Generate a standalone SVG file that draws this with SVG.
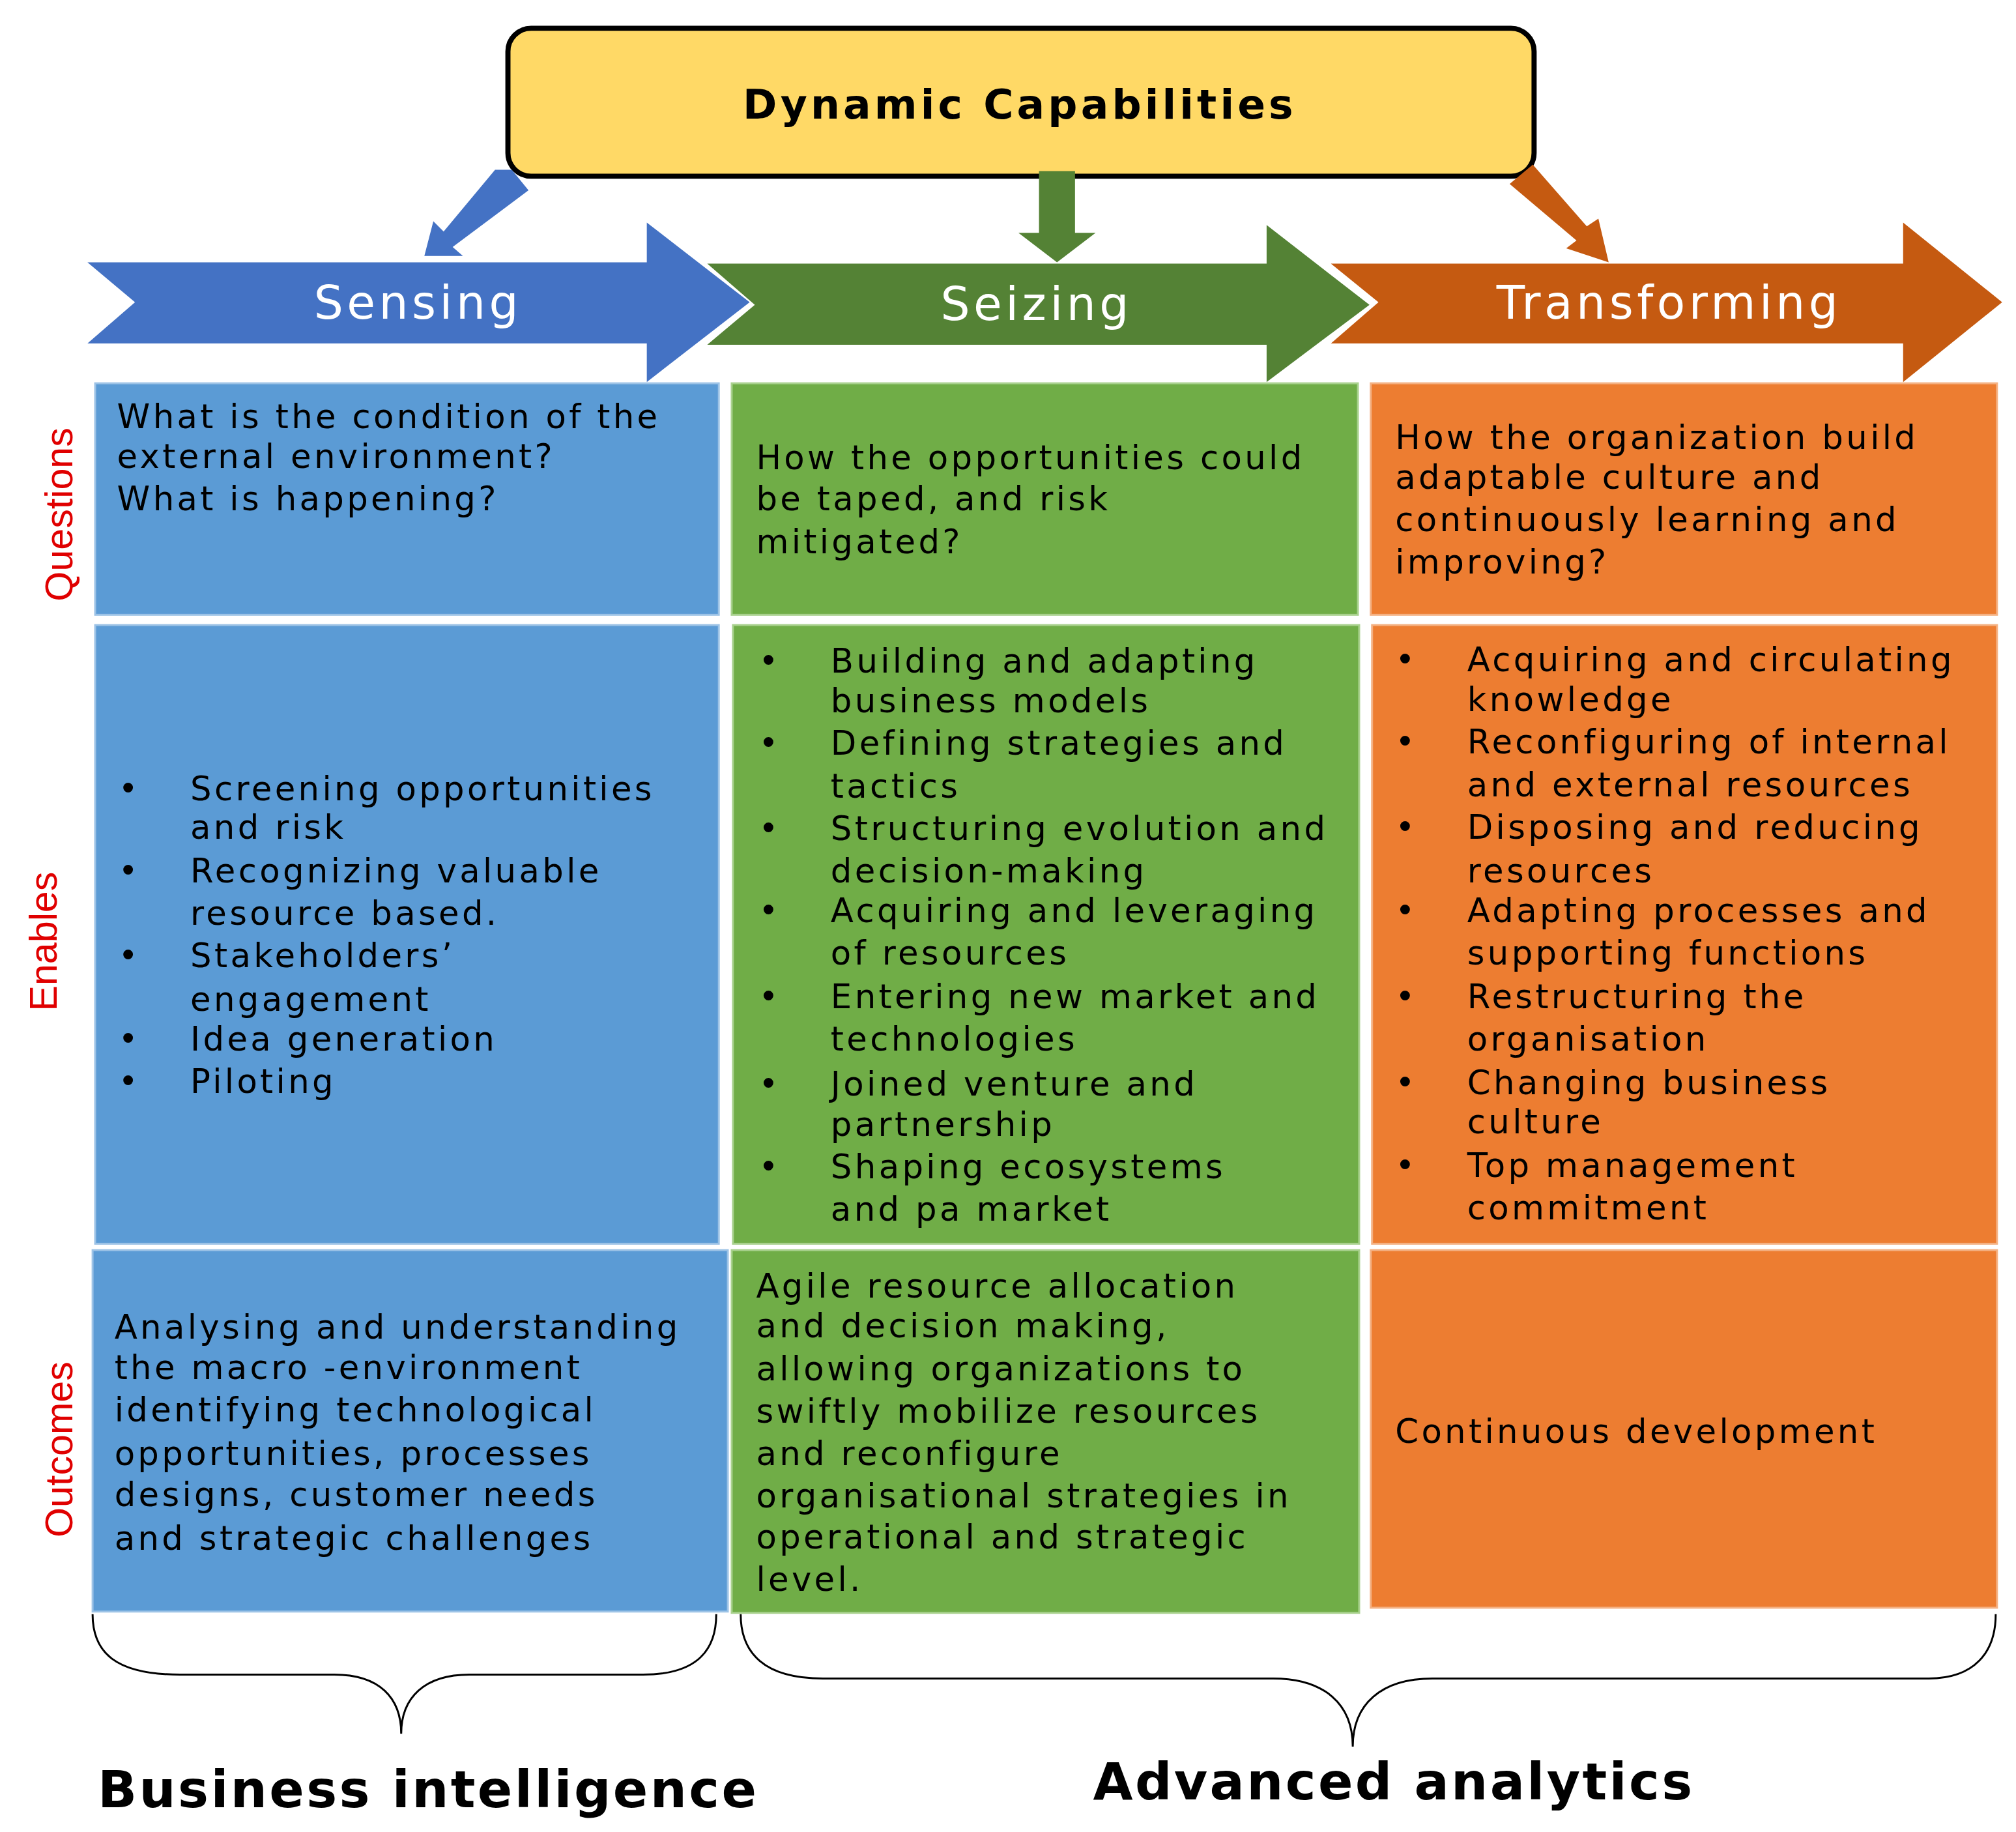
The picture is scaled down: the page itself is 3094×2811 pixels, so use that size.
<svg xmlns="http://www.w3.org/2000/svg" width="3094" height="2811" viewBox="0 0 3094 2811">
<style>
.t{font-family:"DejaVu Sans",sans-serif;font-size:26px;fill:#000;letter-spacing:2.2px}
.lab{font-family:"Liberation Sans",Arial,sans-serif;font-size:30px;fill:#E00000}
.hd{font-family:"DejaVu Sans",sans-serif;font-size:36px;fill:#fff;letter-spacing:2.8px}
.bt{font-family:"DejaVu Sans",sans-serif;font-weight:bold;font-size:40px;fill:#000;letter-spacing:1.7px}
.cb{fill:#5B9BD5;stroke:#9DC3E6;stroke-width:1.5}
.cg{fill:#70AD47;stroke:#A9D18E;stroke-width:1.5}
.co{fill:#ED7D31;stroke:#F4B183;stroke-width:1.5}
.br{fill:none;stroke:#000;stroke-width:1.5}
</style>
<rect width="3094" height="2811" fill="#fff"/>
<g transform="scale(1.9735)">
<g id="title">
<rect x="395" y="22" width="798" height="115" rx="18" fill="#FFD966" stroke="#000" stroke-width="4"/>
<text x="793" y="92" text-anchor="middle" font-family="DejaVu Sans,sans-serif" font-weight="bold" font-size="32" letter-spacing="2.6">Dynamic Capabilities</text>
</g>
<g id="connectors">
<polygon points="398,132 411,148 352,192 360,199 330,199 337,172 345,180 385,132" fill="#4472C4"/>
<polygon points="808,133 836,133 836,181 852,181 822,204 792,181 808,181" fill="#548235"/>
<polygon points="1174,143 1192,128 1234,176 1243,170 1251,204 1218,193 1226,187" fill="#C55A11"/>
<path class="br" d="M72,1255 C72,1285 90,1302 140,1302 L260,1302 C295,1302 312,1320 312,1348 C312,1320 330,1302 365,1302 L500,1302 C540,1302 557,1285 557,1255"/>
<path class="br" d="M576,1255 C576,1285 594,1305 640,1305 L990,1305 C1030,1305 1052,1325 1052,1358 C1052,1325 1074,1305 1114,1305 L1500,1305 C1535,1305 1552,1285 1552,1255"/>
</g>
<g id="sensing">
<polygon points="68,204 503,204 503,173 583,235 503,297 503,267 68,267 105,235" fill="#4472C4"/>
<text class="hd" x="325" y="248" text-anchor="middle">Sensing</text>
</g>
<g id="seizing">
<polygon points="550,205 985,205 985,175 1065,237 985,297 985,268 550,268 587,237" fill="#548235"/>
<text class="hd" x="806" y="249" text-anchor="middle">Seizing</text>
</g>
<g id="transforming">
<polygon points="1035,205 1480,205 1480,173 1557,235 1480,297 1480,267 1035,267 1072,235" fill="#C55A11"/>
<text class="hd" x="1298" y="248" text-anchor="middle">Transforming</text>
</g>
<g id="labels">
<text class="lab" transform="translate(56,400) rotate(-90)" text-anchor="middle">Questions</text>
<text class="lab" transform="translate(44,732) rotate(-90)" text-anchor="middle">Enables</text>
<text class="lab" transform="translate(56,1127) rotate(-90)" text-anchor="middle">Outcomes</text>
</g>
<g id="q-sensing"><rect class="cb" x="74" y="298" width="485" height="180"/>
<text class="t" x="91" y="333">What is the condition of the</text>
<text class="t" x="91" y="364">external environment?</text>
<text class="t" x="91" y="397">What is happening?</text></g>
<g id="q-seizing"><rect class="cg" x="569" y="298" width="487" height="180"/>
<text class="t" x="588" y="365">How the opportunities could</text>
<text class="t" x="588" y="397">be taped, and risk</text>
<text class="t" x="588" y="430">mitigated?</text></g>
<g id="q-transforming"><rect class="co" x="1066" y="298" width="487" height="180"/>
<text class="t" x="1085" y="349">How the organization build</text>
<text class="t" x="1085" y="380">adaptable culture and</text>
<text class="t" x="1085" y="413">continuously learning and</text>
<text class="t" x="1085" y="446">improving?</text></g>
<g id="e-sensing"><rect class="cb" x="74" y="486" width="485" height="481"/>
<g class="t">
<text x="92" y="622">•</text><text x="148" y="622">Screening opportunities</text>
<text x="148" y="652">and risk</text>
<text x="92" y="686">•</text><text x="148" y="686">Recognizing valuable</text>
<text x="148" y="719">resource based.</text>
<text x="92" y="752">•</text><text x="148" y="752">Stakeholders’</text>
<text x="148" y="786">engagement</text>
<text x="92" y="817">•</text><text x="148" y="817">Idea generation</text>
<text x="92" y="850">•</text><text x="148" y="850">Piloting</text>
</g></g>
<g id="e-seizing"><rect class="cg" x="570" y="486" width="487" height="481"/>
<g class="t">
<text x="590" y="523">•</text><text x="646" y="523">Building and adapting</text>
<text x="646" y="554">business models</text>
<text x="590" y="587">•</text><text x="646" y="587">Defining strategies and</text>
<text x="646" y="620">tactics</text>
<text x="590" y="653">•</text><text x="646" y="653">Structuring evolution and</text>
<text x="646" y="686">decision-making</text>
<text x="590" y="717">•</text><text x="646" y="717">Acquiring and leveraging</text>
<text x="646" y="750">of resources</text>
<text x="590" y="784">•</text><text x="646" y="784">Entering new market and</text>
<text x="646" y="817">technologies</text>
<text x="590" y="852">•</text><text x="646" y="852">Joined venture and</text>
<text x="646" y="883">partnership</text>
<text x="590" y="916">•</text><text x="646" y="916">Shaping ecosystems</text>
<text x="646" y="949">and pa market</text>
</g></g>
<g id="e-transforming"><rect class="co" x="1067" y="486" width="486" height="481"/>
<g class="t">
<text x="1085" y="522">•</text><text x="1141" y="522">Acquiring and circulating</text>
<text x="1141" y="553">knowledge</text>
<text x="1085" y="586">•</text><text x="1141" y="586">Reconfiguring of internal</text>
<text x="1141" y="619">and external resources</text>
<text x="1085" y="652">•</text><text x="1141" y="652">Disposing and reducing</text>
<text x="1141" y="686">resources</text>
<text x="1085" y="717">•</text><text x="1141" y="717">Adapting processes and</text>
<text x="1141" y="750">supporting functions</text>
<text x="1085" y="784">•</text><text x="1141" y="784">Restructuring the</text>
<text x="1141" y="817">organisation</text>
<text x="1085" y="851">•</text><text x="1141" y="851">Changing business</text>
<text x="1141" y="881">culture</text>
<text x="1085" y="915">•</text><text x="1141" y="915">Top management</text>
<text x="1141" y="948">commitment</text>
</g></g>
<g id="o-sensing"><rect class="cb" x="72" y="972" width="494" height="281"/>
<g class="t">
<text x="89" y="1041">Analysing and understanding</text>
<text x="89" y="1072">the macro -environment</text>
<text x="89" y="1105">identifying technological</text>
<text x="89" y="1139">opportunities, processes</text>
<text x="89" y="1171">designs, customer needs</text>
<text x="89" y="1205">and strategic challenges</text>
</g></g>
<g id="o-seizing"><rect class="cg" x="569" y="972" width="488" height="282"/>
<g class="t">
<text x="588" y="1009">Agile resource allocation</text>
<text x="588" y="1040">and decision making,</text>
<text x="588" y="1073">allowing organizations to</text>
<text x="588" y="1106">swiftly mobilize resources</text>
<text x="588" y="1139">and reconfigure</text>
<text x="588" y="1172">organisational strategies in</text>
<text x="588" y="1204">operational and strategic</text>
<text x="588" y="1237">level.</text>
</g></g>
<g id="o-transforming"><rect class="co" x="1066" y="972" width="487" height="278"/>
<text class="t" x="1085" y="1122">Continuous development</text></g>
<g id="bottom">
<text class="bt" x="76" y="1405">Business intelligence</text>
<text class="bt" x="850" y="1399">Advanced analytics</text>
</g>
</g>
</svg>
